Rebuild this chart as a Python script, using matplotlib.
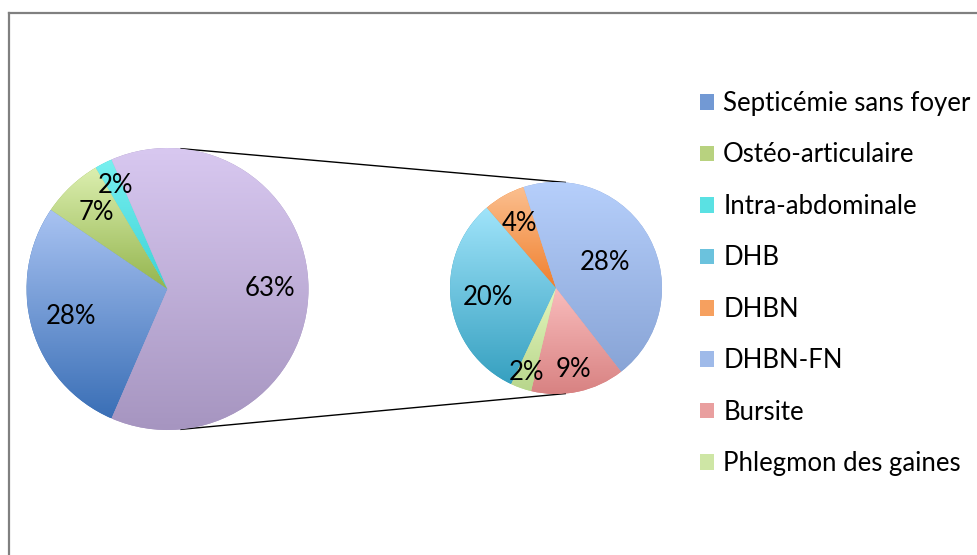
import numpy as np
import matplotlib
matplotlib.use('Agg')
import matplotlib.pyplot as plt
from matplotlib.patches import Patch
from matplotlib.colors import LinearSegmentedColormap

plt.rcParams['font.family'] = ['Lato', 'DejaVu Sans']

# main pie (the last slice is the sum of the second pie)
main_labels = ['Septicémie sans foyer', 'Ostéo-articulaire', 'Intra-abdominale']
main_values = [28, 7, 2]

# second pie = detail of the "other" slice
sub_labels = ['DHB', 'DHBN', 'DHBN-FN', 'Bursite', 'Phlegmon des gaines']
sub_values = [20, 4, 28, 9, 2]

# (top, bottom) gradient colours like the excel style
main_colors = [('#a9c3f2', '#3a6fb6'), ('#dcefb0', '#94b54e'), ('#78f0f0', '#3cd2d6')]
other_color = ('#d8c8f0', '#a695c0')
sub_colors = [('#a0e4fa', '#36a0c0'), ('#fbbf8f', '#f0802e'), ('#b6cffb', '#88a4d6'),
              ('#f9bcbc', '#d88282'), ('#e4f6bd', '#b8d68c')]

FS = 18.5
W, H = 977, 555
fig = plt.figure(figsize=(W / 100, H / 100), dpi=100)
ax = fig.add_axes([0, 0, 1, 1])
ax.set_xlim(0, W)
ax.set_ylim(0, H)
ax.axis('off')

main_c, main_r = (167.5, H - 289), 141
sub_c, sub_r = (556, H - 288), 106


def fill_gradient(wedge, top, bottom):
    ext = wedge.get_path().get_extents()
    cmap = LinearSegmentedColormap.from_list('g', [bottom, top])
    grad = np.linspace(0, 1, 256).reshape(-1, 1)
    im = ax.imshow(grad, cmap=cmap, origin='lower', aspect='auto', zorder=1.5,
                   extent=[ext.x0, ext.x1, ext.y0, ext.y1])
    im.set_clip_path(wedge)


def put_labels(wedges, values, center, r, dists):
    total = sum(main_values) + sum(sub_values)
    for w, v, d in zip(wedges, values, dists):
        th = np.deg2rad((w.theta1 + w.theta2) / 2)
        ax.text(center[0] + d * r * np.cos(th), center[1] + d * r * np.sin(th),
                '%d%%' % round(v / total * 100), ha='center', va='center',
                fontsize=FS, zorder=4)


vals1 = main_values + [sum(sub_values)]
cols1 = main_colors + [other_color]
w1, _ = ax.pie(vals1, center=main_c, radius=main_r, startangle=246.6, counterclock=False,
               colors=[c[1] for c in cols1], wedgeprops=dict(linewidth=0), frame=True)
for w, c in zip(w1, cols1):
    fill_gradient(w, *c)
put_labels(w1, vals1, main_c, main_r, [0.71, 0.74, 0.82, 0.73])

w2, _ = ax.pie(sub_values, center=sub_c, radius=sub_r, startangle=245, counterclock=False,
               colors=[c[1] for c in sub_colors], wedgeprops=dict(linewidth=0), frame=True)
for w, c in zip(w2, sub_colors):
    fill_gradient(w, *c)
put_labels(w2, sub_values, sub_c, sub_r, [0.65, 0.70, 0.52, 0.79, 0.84])

# connector lines between the two pies
for a1, a2 in [(84.5, 85), (-84.5, -85)]:
    p1 = (main_c[0] + main_r * np.cos(np.deg2rad(a1)), main_c[1] + main_r * np.sin(np.deg2rad(a1)))
    p2 = (sub_c[0] + sub_r * np.cos(np.deg2rad(a2)), sub_c[1] + sub_r * np.sin(np.deg2rad(a2)))
    ax.plot([p1[0], p2[0]], [p1[1], p2[1]], color='black', lw=1, zorder=1)

ax.set_xlim(0, W)
ax.set_ylim(0, H)
ax.set_aspect('auto')

# chart border (top and left visible)
ax.plot([8.5, W], [H - 13, H - 13], color='#808080', lw=1.6, zorder=5, clip_on=False)
ax.plot([8.5, 8.5], [H - 13, 0], color='#808080', lw=1.6, zorder=5, clip_on=False)

handles = [Patch(facecolor=LinearSegmentedColormap.from_list('x', [c[1], c[0]])(0.5), edgecolor='none')
           for c in main_colors + sub_colors]
ax.legend(handles, main_labels + sub_labels, loc='upper left', frameon=False,
          bbox_to_anchor=(700 / W, 1 - 91 / H), borderpad=0, borderaxespad=0,
          fontsize=FS, handlelength=0.55, handleheight=0.55, handletextpad=0.35,
          labelspacing=1.03)

fig.savefig('out.png', dpi=100)
